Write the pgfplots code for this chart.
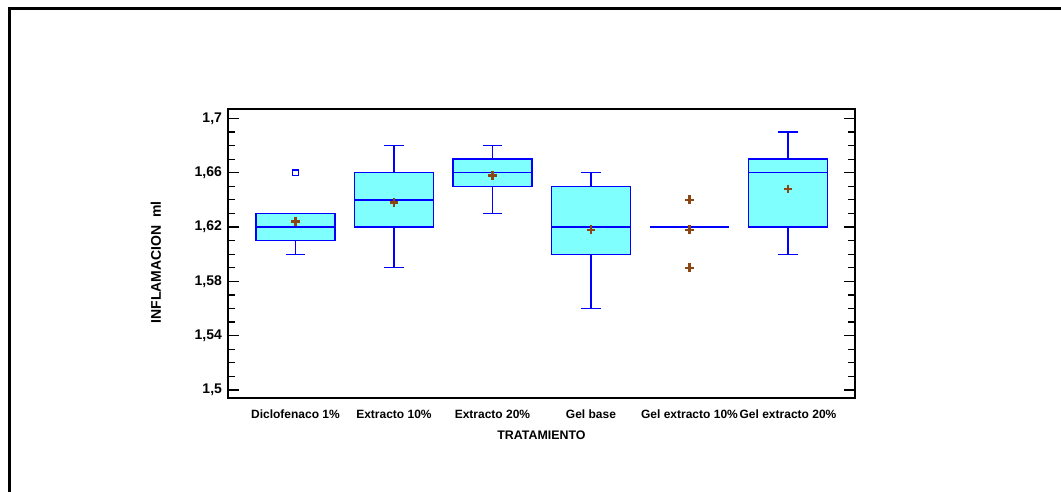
\documentclass[border=0pt]{standalone}
\usepackage{pgfplots}
\pgfplotsset{compat=1.18}
\usepgfplotslibrary{statistics}
\usepackage{fontspec}
\setmainfont{Liberation Sans}
\definecolor{boxcyan}{RGB}{128,255,255}
\definecolor{boxblue}{RGB}{0,0,255}
\definecolor{meanbrown}{RGB}{140,70,20}
\begin{document}
\begin{tikzpicture}
\path[use as bounding box] (0,0) rectangle (795.75pt,369pt);
\draw[line width=2.25pt] (7.1pt,0) -- (7.1pt,362.6pt) -- (795.75pt,362.6pt);
\begin{axis}[
  at={(171pt,70.5pt)}, anchor=south west,
  scale only axis, width=470.25pt, height=216.75pt,
  xmin=-0.685, xmax=5.68, ymin=1.4941, ymax=1.7069,
  axis line style={line width=1.2pt},
  xtick={0,1,2,3,4,5},
  xticklabels={Diclofenaco 1\%,Extracto 10\%,Extracto 20\%,Gel base,Gel extracto 10\%,Gel extracto 20\%},
  x tick style={draw=none},
  xticklabel style={font=\fontsize{9}{10}\selectfont\bfseries, yshift=-5.5pt},
  ytick={1.5,1.54,1.58,1.62,1.66,1.7},
  yticklabels={1{,}5,1{,}54,1{,}58,1{,}62,1{,}66,1{,}7},
  minor y tick num=3,
  yticklabel style={font=\fontsize{10.5}{12}\selectfont\bfseries, xshift=-1pt},
  tick align=inside, ytick pos=both,
  major tick length=8.25pt, minor tick length=5.25pt,
  y tick style={black, line width=0.9pt},
  xlabel={TRATAMIENTO},
  ylabel={INFLAMACION\ \ ml},
  every axis x label/.style={at={(axis description cs:0.5,-0.128)}, anchor=center, font=\fontsize{9.3}{11}\selectfont\bfseries},
  every axis y label/.style={at={(axis description cs:-0.115,0.47)}, anchor=center, rotate=90, font=\fontsize{10.5}{12}\selectfont\bfseries},
  boxplot/draw direction=y,
  boxplot/box extend=0.8,
  boxplot/whisker extend=0.2,
  boxplot/every box/.style={draw=boxblue, fill=boxcyan, line width=1pt},
  boxplot/every whisker/.style={draw=boxblue, line width=1pt},
  boxplot/every median/.style={draw=boxblue, line width=1.1pt},
]
% Diclofenaco 1%
\addplot[boxblue, mark=square, mark size=2pt, mark options={draw=boxblue, fill=none, line width=0.8pt},
  boxplot prepared={draw position=0, lower whisker=1.60, lower quartile=1.61, median=1.62, upper quartile=1.63, upper whisker=1.63}]
  coordinates {(0,1.66)};
% Extracto 10%
\addplot[boxblue, mark=none,
  boxplot prepared={draw position=1, lower whisker=1.59, lower quartile=1.62, median=1.64, upper quartile=1.66, upper whisker=1.68}]
  coordinates {};
% Extracto 20%
\addplot[boxblue, mark=none,
  boxplot prepared={draw position=2, lower whisker=1.63, lower quartile=1.65, median=1.66, upper quartile=1.67, upper whisker=1.68}]
  coordinates {};
% Gel base
\addplot[boxblue, mark=none,
  boxplot prepared={draw position=3, lower whisker=1.56, lower quartile=1.60, median=1.62, upper quartile=1.65, upper whisker=1.66}]
  coordinates {};
% Gel extracto 10%
\addplot[boxblue, mark=+, mark size=3.3pt, mark options={draw=meanbrown, line width=1.8pt, solid},
  boxplot prepared={draw position=4, lower whisker=1.62, lower quartile=1.62, median=1.62, upper quartile=1.62, upper whisker=1.62}]
  coordinates {(4,1.64) (4,1.59)};
% Gel extracto 20%
\addplot[boxblue, mark=none,
  boxplot prepared={draw position=5, lower whisker=1.60, lower quartile=1.62, median=1.66, upper quartile=1.67, upper whisker=1.69}]
  coordinates {};
% means
\addplot[only marks, mark=+, mark size=3.3pt, mark options={draw=meanbrown, line width=1.8pt, solid}]
  coordinates {(0,1.624) (1,1.638) (2,1.658) (3,1.618) (4,1.618) (5,1.648)};
\end{axis}
\end{tikzpicture}
\end{document}
